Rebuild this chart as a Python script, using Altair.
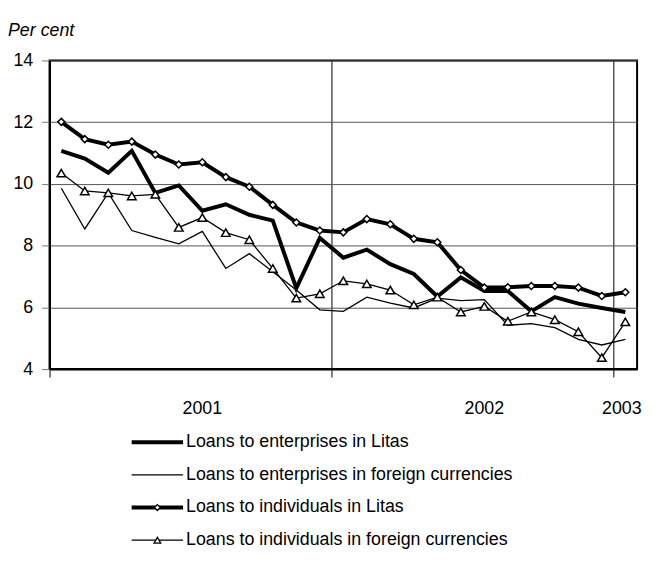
import altair as alt
import pandas as pd

months = list(range(25))
ent_litas = [11.07, 10.82, 10.36, 11.07, 9.71, 9.95, 9.13, 9.34, 9.00, 8.81, 6.62, 8.25, 7.61,
             7.87, 7.40, 7.08, 6.35, 6.97, 6.53, 6.53, 5.87, 6.33, 6.12, 5.98, 5.85]
ent_fx = [9.86, 8.54, 9.71, 8.49, 8.27, 8.06, 8.46, 7.26, 7.74, 7.15, 6.56, 5.92, 5.87,
          6.33, 6.14, 5.98, 6.30, 6.22, 6.25, 5.42, 5.47, 5.34, 4.96, 4.78, 4.96]
ind_litas = [12.01, 11.45, 11.27, 11.37, 10.95, 10.63, 10.70, 10.22, 9.91, 9.32, 8.75, 8.49, 8.43,
             8.86, 8.69, 8.22, 8.11, 7.21, 6.64, 6.65, 6.69, 6.69, 6.64, 6.37, 6.49]
ind_fx = [10.35, 9.77, 9.71, 9.61, 9.66, 8.59, 8.91, 8.42, 8.19, 7.26, 6.30, 6.44, 6.86,
          6.76, 6.56, 6.08, 6.33, 5.85, 6.03, 5.55, 5.85, 5.60, 5.21, 4.37, 5.53]

series_names = [
    "Loans to enterprises in Litas",
    "Loans to enterprises in foreign currencies",
    "Loans to individuals in Litas",
    "Loans to individuals in foreign currencies",
]
year_labels = ["2001", "2002", "2003"]
year_pos = [6, 18, 23.85]
y_ticks = [4, 6, 8, 10, 12, 14]
year_bounds = [-0.5, 11.5, 23.5]

FONT = "Liberation Sans"
W, H = 594, 312

xscale = alt.Scale(domain=[-0.5, 24.5], nice=False, zero=False)
yscale = alt.Scale(domain=[4, 14], nice=False, zero=False)

xaxis = alt.Axis(values=year_bounds, labels=False, ticks=True, tickSize=8, tickColor="black",
                 tickWidth=1, grid=True, gridColor="black", gridOpacity=1, gridWidth=1,
                 domainColor="black", domainWidth=2, title=None)
yaxis = alt.Axis(values=y_ticks, grid=True, gridColor="#555555", gridWidth=1, gridOpacity=1,
                 tickSize=8, tickColor="#777777", labelFontSize=18, labelFont=FONT,
                 labelColor="black", labelPadding=9, domainColor="black", domainWidth=2,
                 title=None)

X = alt.X("i:Q", scale=xscale, axis=xaxis)
Y = alt.Y("v:Q", scale=yscale, axis=yaxis)


def frame(vals):
    return pd.DataFrame({"i": months, "v": vals})


def line_layer(vals, width):
    return alt.Chart(frame(vals)).mark_line(color="black", strokeWidth=width,
                                              strokeJoin="miter").encode(x=X, y=Y)


def point_layer(vals, shape, size):
    return alt.Chart(frame(vals)).mark_point(shape=shape, size=size, filled=True, fill="white",
                                               stroke="black", strokeWidth=1.5,
                                               opacity=1).encode(x=X, y=Y)


layers = [
    line_layer(ent_fx, 1.3),
    line_layer(ent_litas, 4),
    line_layer(ind_fx, 1.3),
    point_layer(ind_fx, "triangle-up", 75),
    line_layer(ind_litas, 4),
    point_layer(ind_litas, "diamond", 50),
]

# year labels
years_df = pd.DataFrame({"i": year_pos, "t": year_labels})
layers.append(alt.Chart(years_df).mark_text(fontSize=18, font=FONT, color="black",
                                             align="center", baseline="middle").encode(
    x=X, y=alt.value(H + 40), text="t:N"))

# y title
layers.append(alt.Chart(pd.DataFrame({"t": ["Per cent"]})).mark_text(
    fontSize=18, font=FONT, fontStyle="italic", color="black", align="left",
    baseline="middle").encode(x=alt.value(-42), y=alt.value(-30), text="t:N"))

# legend
legend_rows = [386, 419, 452, 485]
legend_widths = [4, 1.3, 4, 1.3]
legend_shapes = [None, None, "diamond", "triangle-up"]
legend_sizes = [0, 0, 35, 45]
for name, ry, lw, shp, sz in zip(series_names, legend_rows, legend_widths, legend_shapes, legend_sizes):
    d = pd.DataFrame({"t": [name]})
    layers.append(alt.Chart(d).mark_rule(color="black", strokeWidth=lw).encode(
        x=alt.value(83), x2=alt.value(135), y=alt.value(ry)))
    if shp:
        layers.append(alt.Chart(d).mark_point(shape=shp, size=sz, filled=True, fill="white",
                                              stroke="black", strokeWidth=1.3, opacity=1).encode(
            x=alt.value(109), y=alt.value(ry)))
    layers.append(alt.Chart(d).mark_text(fontSize=18, font=FONT, color="black", align="left",
                                         baseline="middle").encode(
        x=alt.value(138), y=alt.value(ry), text="t:N"))

chart = alt.layer(*layers).properties(
    width=W, height=H,
    background="white",
    autosize=alt.AutoSizeParams(type="none"),
    padding={"left": 42, "top": 50, "right": 8, "bottom": 190},
).configure_view(stroke="black", strokeWidth=2)

chart.save("out.html", embed_options={"renderer": "svg", "actions": False})
